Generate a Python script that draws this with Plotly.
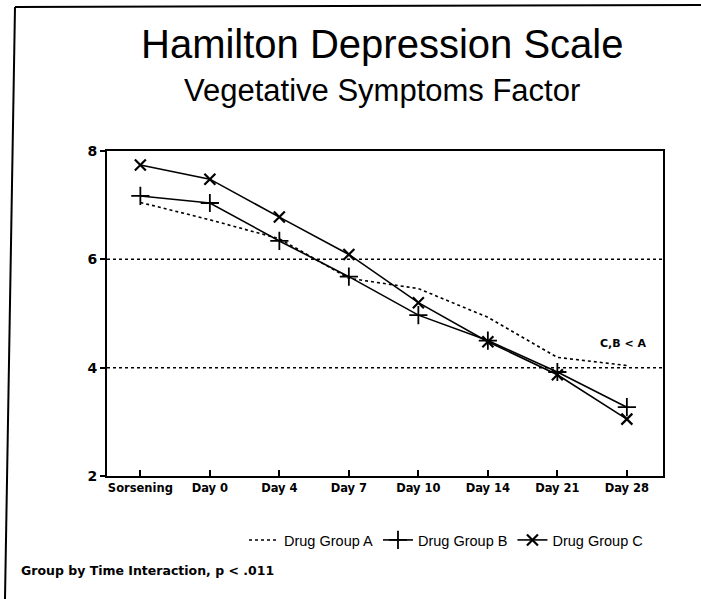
import plotly.graph_objects as go

days = ["Screening", "Day 0", "Day 4", "Day 7", "Day 10", "Day 14", "Day 21", "Day 28"]
tick_labels = ["Sorsening", "Day 0", "Day 4", "Day 7", "Day 10", "Day 14", "Day 21", "Day 28"]
group_a = [7.05, 6.73, 6.38, 5.65, 5.46, 4.93, 4.19, 4.04]
group_b = [7.17, 7.04, 6.34, 5.68, 4.97, 4.50, 3.92, 3.27]
group_c = [7.74, 7.48, 6.78, 6.09, 5.20, 4.48, 3.87, 3.05]
y_ticks = [2, 4, 6, 8]

W, H = 701, 599
L, R, T, B = 107, 663, 151, 476

def px(x):
    return (x - L) / (R - L)

def py(y):
    return (B - y) / (B - T)

xs = list(range(len(days)))
tick_font = "DejaVu Sans"

fig = go.Figure()
fig.add_trace(go.Scatter(x=xs, y=group_a, mode="lines", name="Drug Group A",
                         line=dict(color="black", width=1.6, dash="dot")))
fig.add_trace(go.Scatter(x=xs, y=group_b, mode="lines+markers", name="Drug Group B",
                         line=dict(color="black", width=1.6),
                         marker=dict(symbol="cross-thin-open", size=13,
                                     line=dict(color="black", width=1.8))))
fig.add_trace(go.Scatter(x=xs, y=group_c, mode="lines+markers", name="Drug Group C",
                         line=dict(color="black", width=1.6),
                         marker=dict(symbol="x-thin-open", size=11,
                                     line=dict(color="black", width=2.2))))

fig.update_layout(
    width=W, height=H,
    margin=dict(l=L, r=W - R, t=T, b=H - B),
    paper_bgcolor="white", plot_bgcolor="white",
    showlegend=True,
    legend=dict(orientation="h", x=px(446), xanchor="center", y=py(540), yanchor="middle",
                font=dict(family="Liberation Sans", size=14.5, color="black"),
                bgcolor="rgba(0,0,0,0)", itemwidth=30),
    xaxis=dict(range=[-0.48, 7.52], tickmode="array", tickvals=xs, ticktext=tick_labels,
               showgrid=False, zeroline=False, showline=True, linecolor="black", linewidth=2,
               mirror=True, ticks="inside", ticklen=6, tickwidth=1.5, tickcolor="black",
               tickfont=dict(family=tick_font, size=11.5, color="black", weight="bold")),
    yaxis=dict(range=[2, 8], tickmode="array", tickvals=y_ticks,
               showgrid=False, zeroline=False, showline=True, linecolor="black", linewidth=2,
               mirror=True, ticks="outside", ticklen=5, tickwidth=1.5, tickcolor="black",
               tickfont=dict(family=tick_font, size=14, color="black", weight="bold")),
)

for gy in [4, 6]:
    fig.add_shape(type="line", xref="paper", yref="y", x0=0, x1=1, y0=gy, y1=gy,
                  line=dict(color="black", width=1.5, dash="dot"), layer="below")

# outer page border (left and top)
fig.add_shape(type="line", xref="paper", yref="paper", x0=px(15), y0=py(7), x1=px(5), y1=py(599),
              line=dict(color="black", width=2))
fig.add_shape(type="line", xref="paper", yref="paper", x0=px(15), y0=py(7), x1=px(701), y1=py(5),
              line=dict(color="black", width=2))

fig.add_annotation(text="Hamilton Depression Scale", xref="paper", yref="paper",
                   x=px(382), y=py(44), xanchor="center", yanchor="middle", showarrow=False,
                   font=dict(family="Liberation Sans", size=40, color="black"))
fig.add_annotation(text="Vegetative Symptoms Factor", xref="paper", yref="paper",
                   x=px(382), y=py(90), xanchor="center", yanchor="middle", showarrow=False,
                   font=dict(family="Liberation Sans", size=31, color="black"))
fig.add_annotation(text="C,B < A", xref="x", yref="y", x=6.95, y=4.45,
                   xanchor="center", yanchor="middle", showarrow=False,
                   font=dict(family=tick_font, size=11, color="black", weight="bold"))
fig.add_annotation(text="Group by Time Interaction, p < .011", xref="paper", yref="paper",
                   x=px(19), y=py(570), xanchor="left", yanchor="middle", showarrow=False,
                   font=dict(family=tick_font, size=12.5, color="black", weight="bold"))

fig.write_html("out.html", post_script="document.body.style.margin='0';",
               config={"displayModeBar": False})
